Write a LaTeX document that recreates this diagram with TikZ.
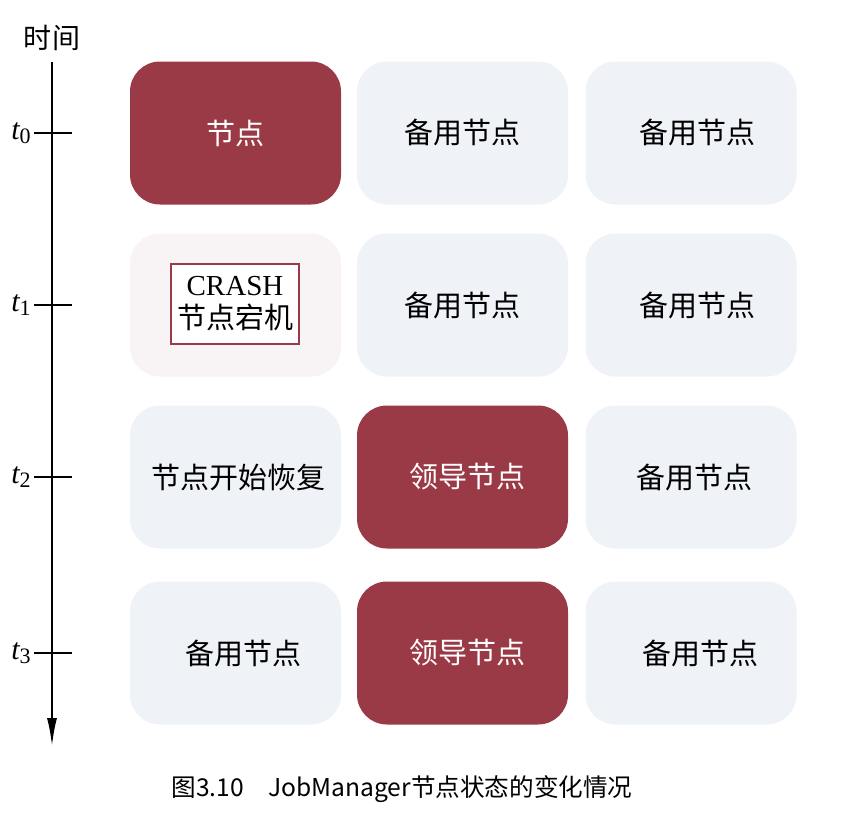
\documentclass[tikz,border=0pt]{standalone}
\usepackage{amsmath, amssymb}
\usepackage{xcolor}
\usepackage{fontspec}
\usetikzlibrary{arrows.meta,shapes,positioning}
\newfontfamily\cjk{Noto Sans CJK SC}
\newfontfamily\timesf{Liberation Serif}
\definecolor{leaderred}{HTML}{9B3A47}
\definecolor{sparegrey}{HTML}{EFF2F7}
\definecolor{crashpink}{HTML}{F8F3F4}
\tikzset{
  statebox/.style={rounded corners=15pt, minimum width=105.5pt, minimum height=71.5pt, inner sep=0pt, font=\cjk\fontsize{14.5}{17}\selectfont},
  spare/.style={statebox, fill=sparegrey, text=black},
  leader/.style={statebox, fill=leaderred, text=white},
  crashed/.style={statebox, fill=crashpink},
  tlabel/.style={font=\timesf\itshape\fontsize{15}{17}\selectfont, anchor=east, inner sep=1pt}
}

\begin{document}
\begin{tikzpicture}[x=0.5pt, y=-0.5pt]
  \useasboundingbox[fill=white] (0,0) rectangle (849,820);
  % time axis
  \node[font=\cjk\fontsize{14}{16}\selectfont] (timelabel) at (52,38) {时间};
  \coordinate (axtop) at (52,62);
  \coordinate (axend) at (52,746);
  \draw[line width=1pt, -{Latex[length=14pt, width=5pt]}] (axtop) -- (axend);
  \foreach \i/\y in {0/133, 1/305, 2/477, 3/653} {
    \coordinate (tick\i) at (52,\y);
    \draw[line width=1pt] ([xshift=-9pt]tick\i) -- ([xshift=10pt]tick\i);
    \node[tlabel] (t\i) at ([xshift=-9.5pt]tick\i) {t\raisebox{-2pt}{\fontsize{11}{12}\selectfont\upshape\i}};
  }
  % row t0
  \node[leader] (n00) at (235.5,133) {节点};
  \node[spare] (n01) at (462.5,133) {备用节点};
  \node[spare] (n02) at (691,133) {\hspace{6pt}备用节点};
  % row t1
  \node[crashed] (n10) at (235.5,305) {};
  \node[draw=leaderred, line width=1pt, fill=white, inner xsep=3pt, inner ysep=6.5pt, align=center,
        font=\timesf\fontsize{14.5}{16.5}\selectfont] (crash) at (235,304)
        {CRASH\\{\cjk 节点宕机}};
  \node[spare] (n11) at (462.5,305) {备用节点};
  \node[spare] (n12) at (691,305) {\hspace{6pt}备用节点};
  % row t2
  \node[spare] (n20) at (235.5,477) {\hspace{3pt}节点开始恢复};
  \node[leader] (n21) at (462.5,477) {\hspace{5pt}领导节点};
  \node[spare] (n22) at (691,477) {\hspace{3pt}备用节点};
  % row t3
  \node[spare] (n30) at (235.5,653) {\hspace{7.5pt}备用节点};
  \node[leader] (n31) at (462.5,653) {\hspace{5pt}领导节点};
  \node[spare] (n32) at (691,653) {\hspace{9pt}备用节点};
  % caption
  \node[font=\cjk\fontsize{12.3}{14}\selectfont] (caption) at (402,789) {图3.10\quad JobManager节点状态的变化情况};
\end{tikzpicture}
\end{document}
